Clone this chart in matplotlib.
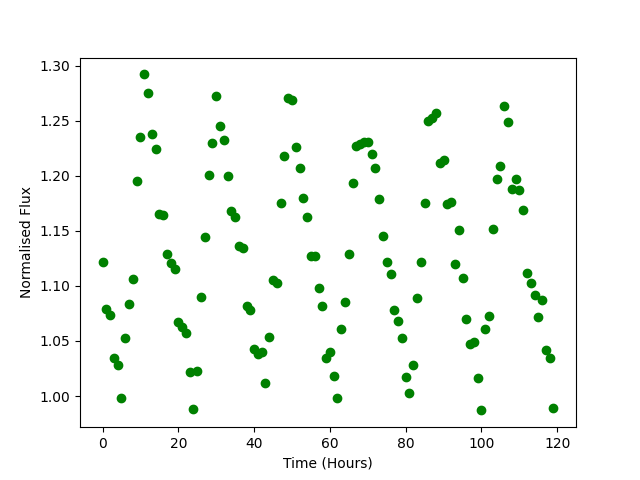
import matplotlib
matplotlib.use("Agg")
import matplotlib.pyplot as plt
import numpy as np

time_hours = np.arange(120)
flux = [
    1.122, 1.079, 1.074, 1.035, 1.028, 0.998, 1.053, 1.084, 1.106, 1.195,
    1.235, 1.292, 1.275, 1.238, 1.224, 1.165, 1.164, 1.129, 1.121, 1.115,
    1.067, 1.063, 1.057, 1.022, 0.988, 1.023, 1.090, 1.144, 1.201, 1.230,
    1.272, 1.245, 1.232, 1.200, 1.168, 1.163, 1.136, 1.134, 1.082, 1.078,
    1.043, 1.038, 1.040, 1.012, 1.054, 1.105, 1.103, 1.175, 1.218, 1.271,
    1.269, 1.226, 1.207, 1.180, 1.163, 1.127, 1.127, 1.098, 1.082, 1.035,
    1.040, 1.018, 0.998, 1.061, 1.085, 1.129, 1.193, 1.227, 1.229, 1.231,
    1.231, 1.220, 1.207, 1.179, 1.145, 1.122, 1.111, 1.078, 1.068, 1.053,
    1.017, 1.003, 1.028, 1.089, 1.122, 1.175, 1.250, 1.252, 1.257, 1.212,
    1.214, 1.174, 1.176, 1.120, 1.151, 1.107, 1.070, 1.047, 1.049, 1.016,
    0.987, 1.061, 1.073, 1.152, 1.197, 1.209, 1.263, 1.249, 1.188, 1.197,
    1.187, 1.169, 1.112, 1.103, 1.092, 1.072, 1.087, 1.042, 1.035, 0.989,
]

fig, ax = plt.subplots(figsize=(6.4, 4.8), dpi=100)
ax.plot(time_hours, flux, 'o', color='green')
ax.set_xlabel('Time (Hours)')
ax.set_ylabel('Normalised Flux')
fig.savefig('out.png', dpi=100)
